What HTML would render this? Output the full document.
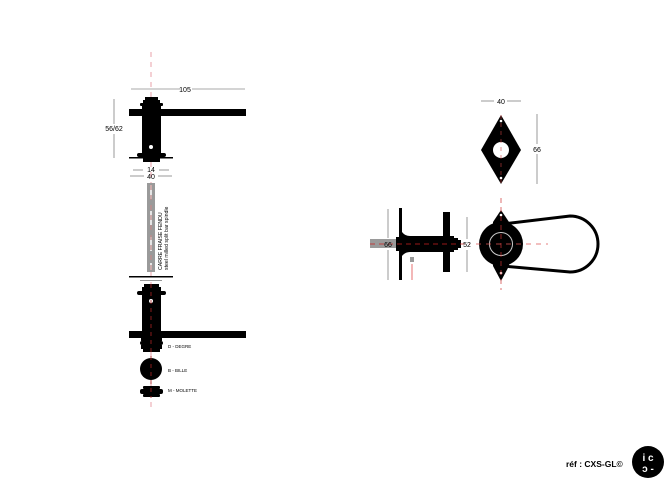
<!DOCTYPE html>
<html><head><meta charset="utf-8"><style>
html,body{margin:0;padding:0;background:#fff;}
svg{display:block;}
text{font-family:"Liberation Sans",sans-serif;}
</style></head><body>
<svg width="670" height="491" viewBox="0 0 670 491" xmlns="http://www.w3.org/2000/svg">
<!-- left view -->
<line x1="151" y1="52" x2="151" y2="410" stroke="#e8a0a8" stroke-width="1" stroke-dasharray="5,5"/>
<g stroke="#555" stroke-width="0.6">
<line x1="131" y1="89" x2="180" y2="89"/><line x1="192" y1="89" x2="245" y2="89"/>
<line x1="114" y1="99" x2="114" y2="124"/><line x1="114" y1="134" x2="114" y2="158"/>
<line x1="133" y1="170" x2="143" y2="170"/><line x1="159" y1="170" x2="169" y2="170"/>
<line x1="130" y1="176" x2="144" y2="176"/><line x1="158" y1="176" x2="172" y2="176"/>
<line x1="481" y1="101" x2="494" y2="101"/><line x1="507" y1="101" x2="521" y2="101"/>
<line x1="537" y1="114" x2="537" y2="144"/><line x1="537" y1="154" x2="537" y2="184"/>
<line x1="388" y1="209" x2="388" y2="238"/><line x1="388" y1="250" x2="388" y2="280"/>
<line x1="467" y1="217" x2="467" y2="239"/><line x1="467" y1="250" x2="467" y2="272"/>
</g>
<text x="185" y="92" font-size="7" text-anchor="middle">105</text>
<text x="114" y="131" font-size="7" text-anchor="middle">56/62</text>
<text x="151" y="172" font-size="7" text-anchor="middle">14</text>
<text x="151" y="179" font-size="7" text-anchor="middle">40</text>
<g fill="#000">
<rect x="145" y="97" width="13" height="3"/>
<rect x="143" y="100" width="17" height="3"/>
<rect x="140" y="103" width="23" height="3" rx="1"/>
<rect x="142" y="106" width="19" height="3"/>
<rect x="129" y="109" width="117" height="7"/>
<rect x="142" y="116" width="19" height="39"/>
<rect x="137" y="153" width="29" height="4" rx="2"/>
<rect x="129" y="157" width="44" height="1.5"/>
<rect x="143" y="158" width="17" height="4"/>
</g>
<circle cx="151" cy="147" r="2" fill="#fff"/>
<rect x="147" y="183" width="8" height="89" fill="#9a9a9a"/>
<line x1="151" y1="185" x2="151" y2="270" stroke="#fff" stroke-width="1.5" stroke-dasharray="14,12"/>
<line x1="151" y1="185" x2="151" y2="270" stroke="#c88" stroke-width="1" stroke-dasharray="5,5"/>
<text transform="translate(162,270) rotate(-90)" font-size="5.2">CARRE FRAISE FENDU</text>
<text transform="translate(168,270) rotate(-90)" font-size="5.2">steel milled split bar spindle</text>
<rect x="129" y="276" width="44" height="1.5" fill="#000"/>
<rect x="140" y="280" width="22" height="1" fill="#999"/>
<g fill="#000">
<rect x="144" y="284" width="15" height="3"/>
<rect x="142" y="287" width="19" height="4"/>
<rect x="137" y="291" width="29" height="4" rx="2"/>
<rect x="142" y="295" width="19" height="37"/>
<rect x="129" y="331" width="117" height="7"/>
<rect x="141" y="338" width="21" height="3"/>
<rect x="140" y="341" width="23" height="4" rx="2"/>
<rect x="141" y="345" width="21" height="4"/>
<rect x="143" y="349" width="17" height="3"/>
<circle cx="151" cy="369" r="11"/>
<rect x="143" y="386" width="17" height="3" rx="1"/>
<rect x="140" y="389" width="23" height="5" rx="2"/>
<rect x="143" y="394" width="17" height="3" rx="1"/>
</g>
<circle cx="151" cy="301" r="2" fill="#fff"/>
<line x1="151" y1="284" x2="151" y2="398" stroke="#a22" stroke-width="0.8" stroke-dasharray="4,4"/>
<text x="168" y="348" font-size="4.5">D - DEGRE</text>
<text x="168" y="372" font-size="4.5">B - BILLE</text>
<text x="168" y="392" font-size="4.5">M - MOLETTE</text>
<!-- diamond -->
<polygon points="501,115 521,150 501,184 481,150" fill="#000"/>
<circle cx="501" cy="150" r="8" fill="#fff"/>
<circle cx="501" cy="121" r="1.3" fill="#fff"/><circle cx="501" cy="178" r="1.3" fill="#fff"/>
<line x1="501" y1="115" x2="501" y2="186" stroke="#c44" stroke-width="0.6" stroke-dasharray="4,4"/>
<text x="501" y="104" font-size="7" text-anchor="middle">40</text>
<text x="537" y="152" font-size="7" text-anchor="middle">66</text>
<!-- side view -->
<rect x="370" y="239" width="28" height="9" fill="#9a9a9a"/>
<rect x="399" y="208" width="3" height="72" fill="#000"/>
<rect x="396" y="237" width="3" height="14" fill="#000"/>
<path d="M402,232 Q405,236 410,236 L444,236 L444,252 L410,252 Q405,252 402,256Z" fill="#000"/>
<rect x="443" y="212" width="7" height="60" fill="#000"/>
<rect x="450" y="236" width="4" height="16" fill="#000"/>
<rect x="454" y="238" width="4" height="12" fill="#000"/>
<rect x="458" y="240" width="3" height="8" fill="#000"/>
<rect x="410" y="257" width="4" height="5" fill="#999"/>
<line x1="412" y1="264" x2="412" y2="280" stroke="#d33" stroke-width="0.7"/>
<line x1="370" y1="244" x2="470" y2="244" stroke="#c22" stroke-width="0.8" stroke-dasharray="5,4"/>
<text x="388" y="247" font-size="7" text-anchor="middle">66</text>
<text x="467" y="247" font-size="7" text-anchor="middle">52</text>
<!-- front view -->
<polygon points="501,210 509,222 509,266 501,281 493,266 493,222" fill="#000"/>
<path d="M503,224 L570,216 A28,28 0 0 1 570,272 L503,266" fill="none" stroke="#000" stroke-width="3"/>
<circle cx="501" cy="244" r="22" fill="#000"/>
<circle cx="501" cy="244" r="11.5" fill="none" stroke="#ccc" stroke-width="1"/>
<circle cx="501" cy="215" r="1.3" fill="#fff"/><circle cx="501" cy="273" r="1.3" fill="#fff"/>
<line x1="501" y1="198" x2="501" y2="290" stroke="#c33" stroke-width="0.7" stroke-dasharray="5,4"/>
<line x1="476" y1="244" x2="548" y2="244" stroke="#d55" stroke-width="0.7" stroke-dasharray="5,5"/>
<!-- ref & logo -->
<text x="566" y="467" font-size="8.5" font-weight="bold">réf : CXS-GL©</text>
<circle cx="648" cy="462" r="16" fill="#000"/>
<text x="648" y="461" font-size="10" font-weight="bold" fill="#fff" text-anchor="middle">i c</text>
<text x="648" y="472" font-size="10" font-weight="bold" fill="#fff" text-anchor="middle">ɔ -</text>
</svg>
</body></html>
